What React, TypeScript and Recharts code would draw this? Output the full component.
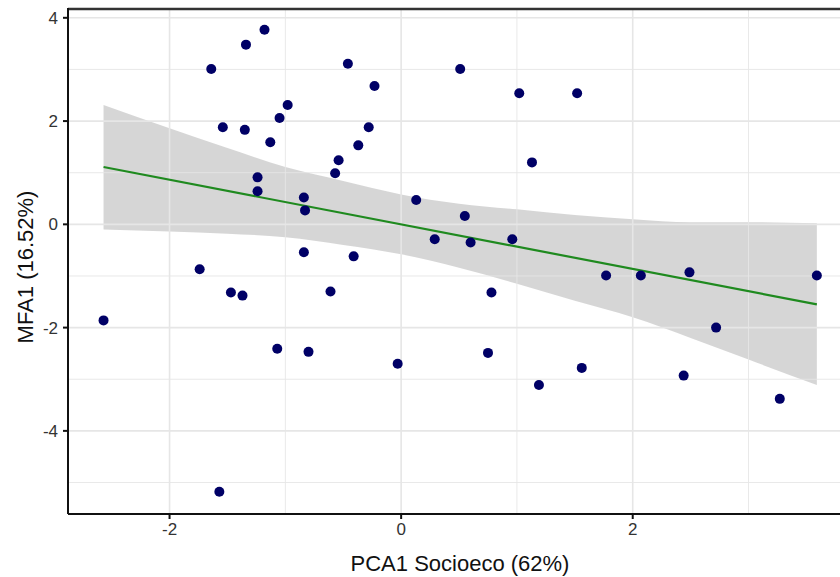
import {
  ComposedChart,
  Scatter,
  Line,
  Area,
  XAxis,
  YAxis,
  ReferenceLine,
} from 'recharts';

const pca1 = [
  -2.57, -1.74, -1.64, -1.57, -1.54, -1.47, -1.37, -1.35, -1.34, -1.24,
  -1.24, -1.18, -1.13, -1.07, -1.05, -0.98, -0.84, -0.83, -0.84, -0.8,
  -0.61, -0.57, -0.54, -0.46, -0.41, -0.37, -0.28, -0.23, -0.03, 0.13,
  0.29, 0.51, 0.55, 0.6, 0.75, 0.78, 0.96, 1.02, 1.13, 1.19,
  1.52, 1.56, 1.77, 2.07, 2.44, 2.49, 2.72, 3.27, 3.59,
];
const mfa1 = [
  -1.86, -0.87, 3.01, -5.18, 1.88, -1.32, -1.38, 1.83, 3.48, 0.91,
  0.64, 3.77, 1.59, -2.41, 2.06, 2.31, 0.52, 0.27, -0.54, -2.47,
  -1.3, 0.99, 1.24, 3.11, -0.62, 1.53, 1.88, 2.68, -2.7, 0.47,
  -0.29, 3.01, 0.16, -0.35, -2.49, -1.32, -0.29, 2.54, 1.2, -3.11,
  2.54, -2.78, -0.99, -0.99, -2.93, -0.93, -2.0, -3.38, -0.99,
];

// fitted line and 95% band
const fitX = [-2.57, 3.59];
const fitY = [1.11, -1.55];
const bandX = [-2.57, -2, -1.5, -1, -0.5, 0, 0.5, 1, 1.5, 2, 2.5, 3, 3.59];
const bandLow = [-0.1, -0.14, -0.18, -0.25, -0.4, -0.58, -0.84, -1.15, -1.48, -1.8, -2.2, -2.62, -3.11];
const bandHigh = [2.31, 1.86, 1.48, 1.11, 0.84, 0.58, 0.4, 0.29, 0.18, 0.1, 0.04, 0.04, 0.02];

const xTicks = [-2, 0, 2];
const yTicks = [-4, -2, 0, 2, 4];
const xGrid = [-3, -2, -1, 0, 1, 2, 3];
const yGrid = [-5, -4, -3, -2, -1, 0, 1, 2, 3, 4];

const X_DOMAIN = [-2.877, 3.79];
const Y_DOMAIN = [-5.61, 4.19];

const points = pca1.map((x, i) => ({ x, y: mfa1[i] }));
const fit = fitX.map((x, i) => ({ x, y: fitY[i] }));
const band = bandX.map((x, i) => ({ x, band: [bandLow[i], bandHigh[i]] }));

const FONT = '"Liberation Sans", Arial, sans-serif';
const tickStyle = { fontSize: 17, fill: '#333', fontFamily: FONT };

export default function App() {
  return (
    <div style={{ position: 'absolute', left: 0, top: 0, width: 840, height: 577, fontFamily: FONT }}>
      <ComposedChart width={840} height={577} margin={{ top: 8, right: 0, bottom: 0, left: 0 }}>
        <XAxis
          type="number"
          dataKey="x"
          domain={X_DOMAIN}
          allowDataOverflow
          ticks={xTicks}
          height={63}
          tick={tickStyle}
          tickSize={5}
          tickMargin={4}
          axisLine={{ stroke: '#111', strokeWidth: 2 }}
          tickLine={{ stroke: '#111', strokeWidth: 2 }}
          label={{
            value: 'PCA1 Socioeco (62%)',
            position: 'insideBottom',
            offset: 6,
            dx: 6,
            style: { fontSize: 22, fill: '#111', fontFamily: FONT },
          }}
        />
        <YAxis
          type="number"
          dataKey="y"
          domain={Y_DOMAIN}
          allowDataOverflow
          ticks={yTicks}
          width={68}
          tick={tickStyle}
          tickSize={5}
          tickMargin={5}
          axisLine={{ stroke: '#111', strokeWidth: 2 }}
          tickLine={{ stroke: '#111', strokeWidth: 2 }}
          label={{
            value: 'MFA1 (16.52%)',
            angle: -90,
            position: 'insideLeft',
            offset: 25,
            dy: 6,
            style: { fontSize: 22, fill: '#111', fontFamily: FONT, textAnchor: 'middle' },
          }}
        />
        {yGrid.map((v) => (
          <ReferenceLine
            key={'y' + v}
            y={v}
            stroke="#e6e6e6"
            strokeWidth={v % 2 === 0 ? 1.6 : 0.9}
          />
        ))}
        {xGrid.map((v) => (
          <ReferenceLine
            key={'x' + v}
            x={v}
            stroke="#e6e6e6"
            strokeWidth={v % 2 === 0 ? 1.6 : 0.9}
          />
        ))}
        {/* panel border along the top */}
        <ReferenceLine y={4.17} stroke="#333" strokeWidth={2.5} />
        <Area
          data={band}
          dataKey="band"
          type="monotone"
          stroke="none"
          fill="#999999"
          fillOpacity={0.4}
          isAnimationActive={false}
        />
        <Line
          data={fit}
          dataKey="y"
          type="linear"
          stroke="#1f8a1f"
          strokeWidth={2.2}
          dot={false}
          isAnimationActive={false}
        />
        <Scatter
          data={points}
          dataKey="y"
          fill="#000066"
          shape={(p: any) => <circle cx={p.cx} cy={p.cy} r={5} fill="#000066" />}
          isAnimationActive={false}
        />
      </ComposedChart>
    </div>
  );
}
